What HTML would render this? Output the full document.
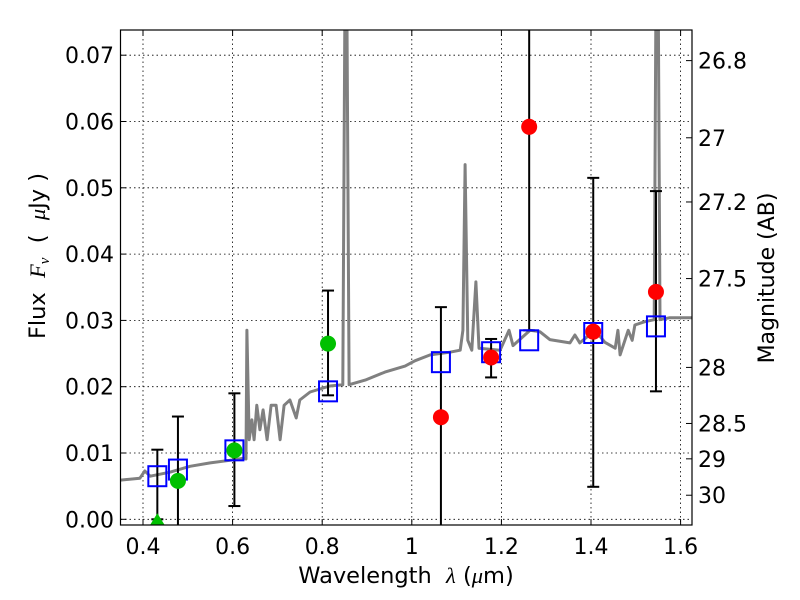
<!DOCTYPE html>
<html><head><meta charset="utf-8">
<style>
body{margin:0;background:#fff;}
svg{display:block;font-family:"DejaVu Sans","Liberation Sans",sans-serif;}
</style></head>
<body>
<svg id="chart" width="800" height="600" viewBox="0 0 800 600">
<defs><clipPath id="pc"><rect x="120.5" y="30" width="571.5" height="495"/></clipPath></defs>
<rect x="0" y="0" width="800" height="600" fill="#fff"/>
<g id="grid"></g>
<g id="marks" clip-path="url(#pc)"></g>
<rect x="120.5" y="30" width="571.5" height="495" fill="none" stroke="#000" stroke-width="1.2"/>
<g id="axes"></g>
<text x="406" y="583" font-size="22.5" text-anchor="middle" xml:space="preserve">Wavelength  <tspan font-style="italic" font-family="Liberation Serif,serif">λ</tspan> (<tspan font-style="italic" font-family="Liberation Serif,serif">μ</tspan>m)</text>
<text transform="translate(45,256) rotate(-90)" font-size="22.5" text-anchor="middle" xml:space="preserve">Flux  <tspan font-style="italic" font-family="Liberation Serif,serif">F<tspan font-size="15" dy="4">ν</tspan></tspan><tspan dy="-4">  (  </tspan><tspan font-style="italic" font-family="Liberation Serif,serif">μ</tspan>Jy )</text>
<text transform="translate(774,278) rotate(-90)" font-size="22" text-anchor="middle">Magnitude (AB)</text>
</svg>
<script>
const xTicks=[0.4,0.6,0.8,1.0,1.2,1.4,1.6];
const xTickLabels=["0.4","0.6","0.8","1","1.2","1.4","1.6"];
const yTicks=[0,0.01,0.02,0.03,0.04,0.05,0.06,0.07];
const yTickLabels=["0.00","0.01","0.02","0.03","0.04","0.05","0.06","0.07"];
const magTicks=[26.8,27,27.2,27.5,28,28.5,29,30];
const magTickLabels=["26.8","27","27.2","27.5","28","28.5","29","30"];
const specWave=[0.349,0.393,0.404,0.416,0.460,0.505,0.550,0.594,0.623,0.630,0.632,0.637,0.643,0.648,0.654,0.661,0.668,0.677,0.686,0.697,0.706,0.715,0.728,0.742,0.750,0.773,0.817,0.846,0.851,0.855,0.860,0.896,0.940,0.985,1.007,1.041,1.085,1.108,1.114,1.119,1.125,1.134,1.143,1.150,1.197,1.217,1.226,1.264,1.286,1.308,1.353,1.364,1.375,1.409,1.431,1.454,1.460,1.465,1.483,1.492,1.498,1.520,1.541,1.545,1.550,1.554,1.576,1.625];
const specFlux=[0.0059,0.0062,0.0073,0.0065,0.0071,0.0080,0.0085,0.0089,0.0092,0.0091,0.0285,0.0120,0.0150,0.0120,0.0172,0.0135,0.0165,0.0120,0.0172,0.0172,0.0120,0.0172,0.0180,0.0153,0.0180,0.0192,0.0201,0.0203,0.08,0.08,0.0203,0.0210,0.0222,0.0231,0.0239,0.0248,0.0252,0.0255,0.0285,0.0535,0.0270,0.0255,0.0358,0.0258,0.0255,0.0285,0.0262,0.0285,0.0283,0.0271,0.0266,0.0278,0.0266,0.0285,0.0267,0.0258,0.0285,0.0248,0.0285,0.0270,0.0293,0.0298,0.0301,0.08,0.08,0.0301,0.0304,0.0304];
const modelWave=[0.432,0.478,0.604,0.813,1.065,1.177,1.262,1.405,1.545];
const modelFlux=[0.0065,0.0075,0.0104,0.0193,0.0237,0.0252,0.0270,0.0281,0.0291];
const greenWave=[0.478,0.604,0.813];
const greenFlux=[0.0058,0.0104,0.0265];
const greenLo=[-0.01,0.0020,0.0187];
const greenHi=[0.0155,0.0190,0.0345];
const triWave=[0.432];
const triFlux=[0.0];
const triLo=[0.0];
const triHi=[0.0105];
const redWave=[1.065,1.177,1.262,1.405,1.545];
const redFlux=[0.0154,0.0244,0.0592,0.0283,0.0343];
const redLo=[-0.01,0.0214,0.0285,0.0049,0.0193];
const redHi=[0.0320,0.0272,0.09,0.0515,0.0495];

const X0=120.5,X1=692,Y0=30,Y1=525;
function xs(w){return 143+(w-0.4)*448;}
function ys(f){return 519.3-f*6630;}
function magToFlux(m){return Math.pow(10,(23.9-m)/2.5);}
const NS="http://www.w3.org/2000/svg";
function mk(tag,attrs,parent){const e=document.createElementNS(NS,tag);for(const k in attrs)e.setAttribute(k,attrs[k]);parent.appendChild(e);return e;}
const grid=document.getElementById('grid'),marks=document.getElementById('marks'),axes=document.getElementById('axes');

xTicks.forEach((t,i)=>{
  const x=xs(t);
  const g=mk('line',{x1:x,x2:x,y1:Y0,y2:Y1,stroke:'#000','stroke-width':0.8,'stroke-dasharray':'1.5,3'},grid);
  
  
  const tk=mk('line',{x1:x,x2:x,y1:Y1,y2:Y1-6,stroke:'#000','stroke-width':1},axes);
  
  
  const tt=mk('line',{x1:x,x2:x,y1:Y0,y2:Y0+6,stroke:'#000','stroke-width':1},axes);
  
  
  const l=mk('text',{x:x,y:554,'font-size':22,'text-anchor':'middle'},axes);
  l.textContent=xTickLabels[i];
  
  
});
yTicks.forEach((t,i)=>{
  const y=ys(t);
  const g=mk('line',{x1:X0,x2:X1,y1:y,y2:y,stroke:'#000','stroke-width':0.8,'stroke-dasharray':'1.5,3'},grid);
  
  
  const tk=mk('line',{x1:X0,x2:X0+6,y1:y,y2:y,stroke:'#000','stroke-width':1},axes);
  
  
  const l=mk('text',{x:114,y:y+8,'font-size':22,'text-anchor':'end'},axes);
  l.textContent=yTickLabels[i];
  
  
});
magTicks.forEach((m,i)=>{
  const y=ys(magToFlux(m));
  const tk=mk('line',{x1:X1,x2:X1-6,y1:y,y2:y,stroke:'#000','stroke-width':1},axes);
  
  
  const l=mk('text',{x:698,y:y+8,'font-size':22,'text-anchor':'start'},axes);
  l.textContent=magTickLabels[i];
  
  
});

let d='';
specWave.forEach((w,i)=>{d+=(i?'L':'M')+xs(w).toFixed(1)+','+ys(specFlux[i]).toFixed(1);});
const sp=mk('path',{d:d,fill:'none',stroke:'#808080','stroke-width':3,'stroke-linejoin':'round'},marks);



function errbar(w,lo,hi){
  const x=xs(w);
  const v=mk('line',{x1:x,x2:x,y1:ys(lo),y2:ys(hi),stroke:'#000','stroke-width':2},marks);
  
  
  [lo,hi].forEach(f=>{
    const c=mk('line',{x1:x-6,x2:x+6,y1:ys(f),y2:ys(f),stroke:'#000','stroke-width':2},marks);
    
    
  });
}
greenWave.forEach((w,i)=>errbar(w,greenLo[i],greenHi[i]));
triWave.forEach((w,i)=>errbar(w,triLo[i],triHi[i]));
redWave.forEach((w,i)=>errbar(w,redLo[i],redHi[i]));

modelWave.forEach((w,i)=>{
  const r=mk('rect',{x:xs(w)-9,y:ys(modelFlux[i])-10,width:18,height:20,fill:'none',stroke:'#0000ff','stroke-width':2},marks);
  
  
});
greenWave.forEach((w,i)=>{
  const c=mk('circle',{cx:xs(w),cy:ys(greenFlux[i]),r:8,fill:'#00c000'},marks);
  
  
});
triWave.forEach((w,i)=>{
  const x=xs(w),y=ys(triFlux[i]);
  const t=mk('polygon',{points:`${x},${y-6} ${x-10},${y+10} ${x+10},${y+10}`,fill:'#00c000'},marks);
  
  
});
redWave.forEach((w,i)=>{
  const c=mk('circle',{cx:xs(w),cy:ys(redFlux[i]),r:8,fill:'#ff0000'},marks);
  
  
});
</script>
</body></html>
